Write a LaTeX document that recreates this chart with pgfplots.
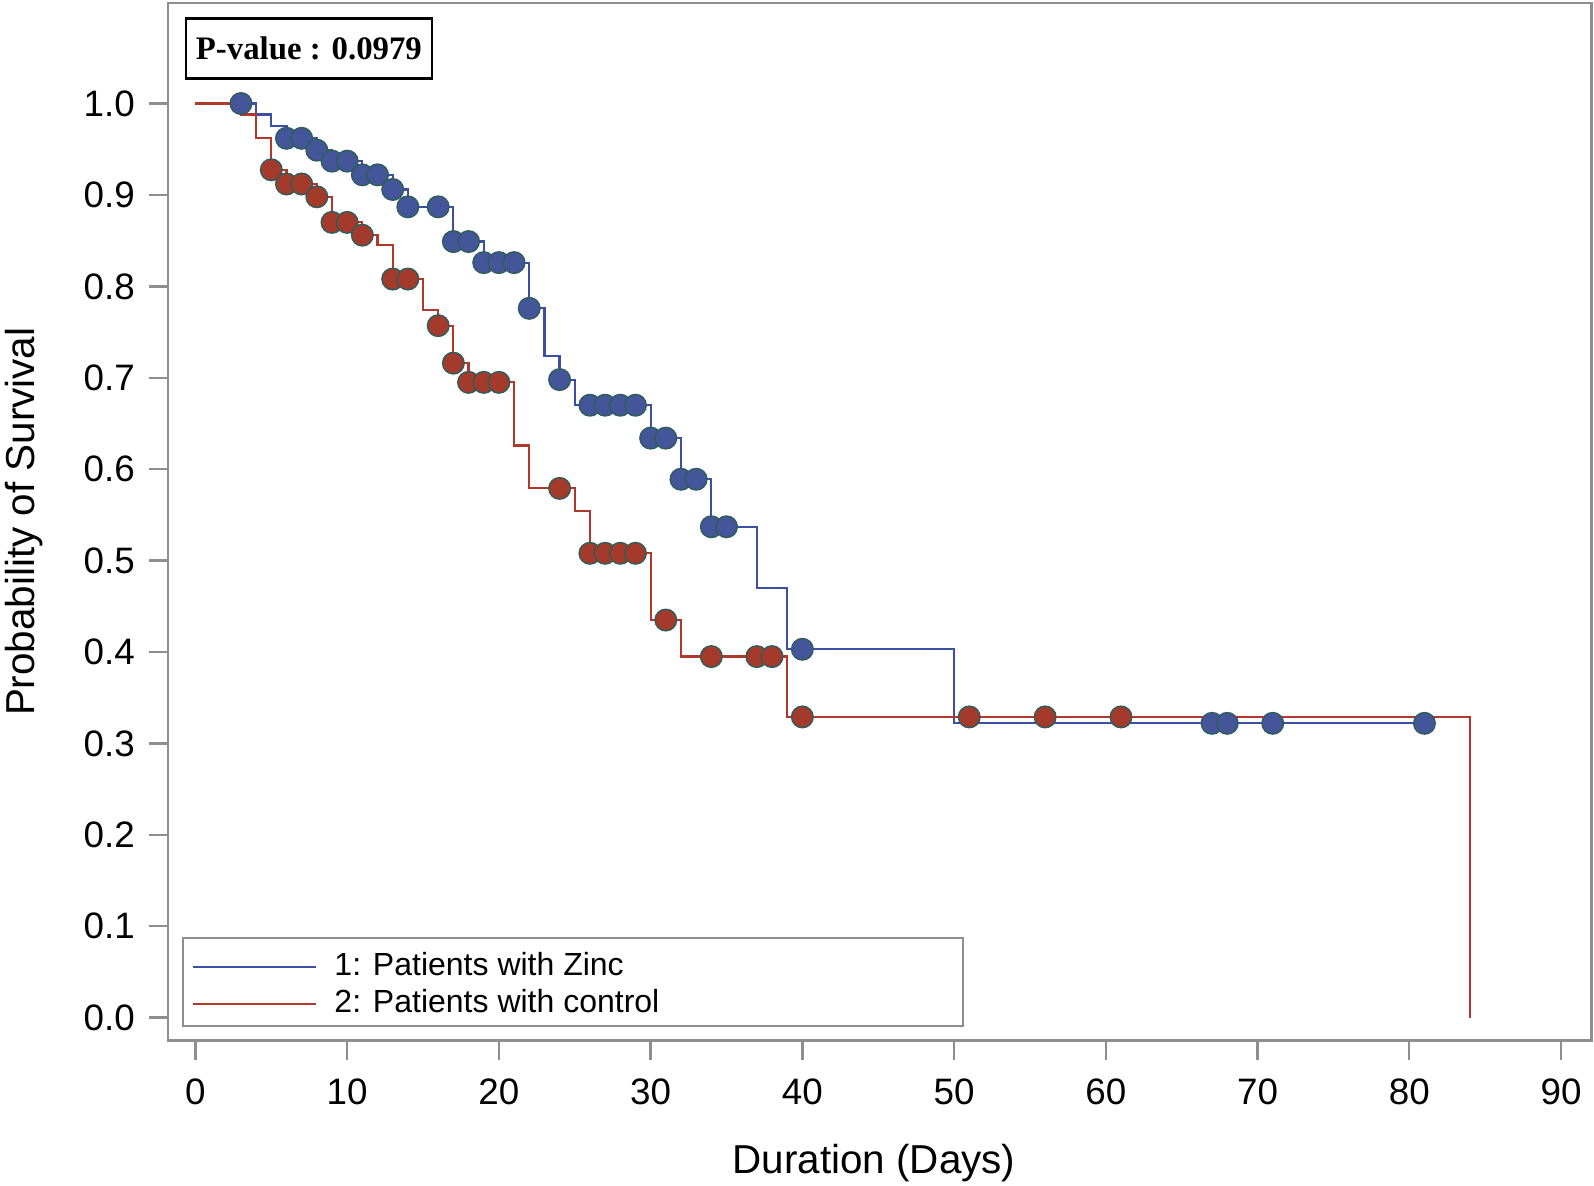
\documentclass[border=0pt]{standalone}
\usepackage{fontspec}
\setmainfont{Liberation Sans}
\newfontfamily\timesfont{Liberation Serif}
\usepackage{pgfplots}
\pgfplotsset{compat=1.18}
\definecolor{ZincLine}{HTML}{3C4FA3}
\definecolor{ZincFill}{HTML}{44559A}
\definecolor{CtrlLine}{HTML}{B0392B}
\definecolor{CtrlFill}{HTML}{A33A2C}
\definecolor{MarkEdge}{HTML}{2E5E5A}
\definecolor{FrameGray}{HTML}{8E8E8E}

\begin{document}
\begin{tikzpicture}
\begin{axis}[
  scale only axis,
  width=355.9pt, height=259.4pt,
  xmin=-1.81, xmax=92.01,
  ymin=-0.025, ymax=1.110,
  xtick={0,10,20,30,40,50,60,70,80,90},
  ytick={0,0.1,0.2,0.3,0.4,0.5,0.6,0.7,0.8,0.9,1},
  tick align=outside,
  xtick pos=bottom, ytick pos=left,
  major tick length=4.75pt,
  axis line style={draw=FrameGray, line width=0.6pt},
  tick style={draw=FrameGray, line width=0.6pt},
  /pgf/number format/assume math mode=true,
  ticklabel style={font=\fontsize{9.2}{11}\selectfont},
  x tick label style={yshift=-1.4pt},
  y tick label style={/pgf/number format/fixed, /pgf/number format/fixed zerofill,
    /pgf/number format/precision=1, xshift=0pt},
  xlabel={Duration (Days)},
  xlabel style={at={(rel axis cs:0.496,-0.128)}, anchor=base, font=\fontsize{10.1}{12}\selectfont},
  ylabel={Probability of Survival},
  ylabel style={at={(rel axis cs:-0.0871,0.5)}, anchor=south, inner sep=0pt,
    font=\fontsize{10.1}{12}\selectfont},
  clip=false,
  legend image code/.code={\draw[#1, line width=0.55pt] (0pt,0pt) -- (30.8pt,0pt); \path (34.25pt,0pt);},
  legend style={at={(rel axis cs:0.0096,0.013)}, anchor=south west, draw=FrameGray, line width=0.5pt,
    font=\fontsize{8}{9.6}\selectfont, inner xsep=2.2pt, inner ysep=0.9pt,
    nodes={inner sep=0.96pt}, cells={anchor=west}},
]
% Kaplan-Meier steps
\addplot[const plot, color=ZincLine, line width=0.55pt,
  legend image code/.code={\draw[##1, line width=0.55pt] (0pt,0pt) -- (30.8pt,0pt); \path (34.25pt,0pt) (0pt,6pt);}]
  coordinates {
  (0,1.0) (4,0.988) (5,0.975) (6,0.962) (8,0.949) (9,0.937) (11,0.922) (13,0.906)
  (14,0.887) (17,0.849) (19,0.826) (22,0.776) (23,0.724) (24,0.698) (25,0.670)
  (30,0.634) (32,0.589) (34,0.537) (37,0.470) (39,0.403) (50,0.322) (81,0.322)};
\addlegendentry{\makebox[153.9pt][l]{1: Patients with Zinc}}
\addplot[const plot, color=CtrlLine, line width=0.55pt] coordinates {
  (0,1.0) (3,0.988) (4,0.962) (5,0.9275) (6,0.912) (8,0.898) (9,0.870) (11,0.856)
  (12,0.845) (13,0.808) (15,0.774) (16,0.757) (17,0.716) (18,0.695) (21,0.626)
  (22,0.579) (25,0.554) (26,0.508) (30,0.435) (32,0.395) (39,0.329) (84,0.0)};
\addlegendentry{\makebox[153.9pt][l]{2: Patients with control}}
% censored observations
\addplot[only marks, mark=*, mark size=2.7pt, forget plot,
  mark options={fill=ZincFill, draw=MarkEdge, line width=0.35pt}] coordinates {
  (3,1.0) (6,0.962) (7,0.962) (8,0.949) (9,0.937) (10,0.937) (11,0.922) (12,0.922)
  (13,0.906) (14,0.887) (16,0.887) (17,0.849) (18,0.849) (19,0.826) (20,0.826) (21,0.826)
  (22,0.776) (24,0.698) (26,0.670) (27,0.670) (28,0.670) (29,0.670) (30,0.634) (31,0.634)
  (32,0.589) (33,0.589) (34,0.537) (35,0.537) (40,0.403)
  (67,0.322) (68,0.322) (71,0.322) (81,0.322)};
\addplot[only marks, mark=*, mark size=2.7pt, forget plot,
  mark options={fill=CtrlFill, draw=MarkEdge, line width=0.35pt}] coordinates {
  (5,0.9275) (6,0.912) (7,0.912) (8,0.898) (9,0.870) (10,0.870) (11,0.856)
  (13,0.808) (14,0.808) (16,0.757) (17,0.716) (18,0.695) (19,0.695) (20,0.695)
  (24,0.579) (26,0.508) (27,0.508) (28,0.508) (29,0.508) (31,0.435)
  (34,0.395) (37,0.395) (38,0.395) (40,0.329) (51,0.329) (56,0.329) (61,0.329)};
\node[draw=black, line width=0.6pt, minimum width=61.4pt, minimum height=15pt, inner sep=0pt,
  font={\fontsize{8.2}{10}\selectfont\timesfont\bfseries}] at (rel axis cs:0.099,0.9563) {P-value : 0.0979};
\coordinate (fsw) at (rel axis cs:0,0);
\coordinate (fne) at (rel axis cs:1,1);
\end{axis}
\pgfresetboundingbox
\path[use as bounding box] ([xshift=-42pt,yshift=-36.125pt]fsw) rectangle ([xshift=0.625pt,yshift=0.75pt]fne);
\end{tikzpicture}
\end{document}
